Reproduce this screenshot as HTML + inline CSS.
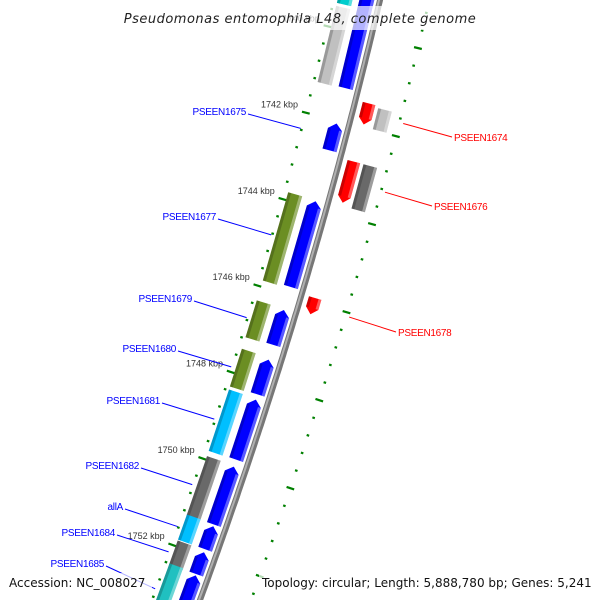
<!DOCTYPE html>
<html><head><meta charset="utf-8"><style>
html,body{margin:0;padding:0;background:#fff;width:600px;height:600px;overflow:hidden;}
svg{display:block;font-family:"Liberation Sans","DejaVu Sans",sans-serif;}
</style></head><body>
<svg id="map" width="600" height="600" viewBox="0 0 600 600" xmlns="http://www.w3.org/2000/svg" overflow="hidden">
<rect width="600" height="600" fill="#fff"/>
<g id="ticks"></g>
<g id="backbone"></g>
<g id="features"></g>
<g id="labels"></g>
<g id="overlay"></g>
</svg>
<script>
// ---- data (kbp) ----
const fwdNames  = ['PSEEN1673','PSEEN1675','PSEEN1677','PSEEN1679','PSEEN1680','PSEEN1681','PSEEN1682','allA','PSEEN1684','PSEEN1685'];
const fwdStart  = [1738.33,1742.06,1743.85,1746.35,1747.49,1748.41,1749.95,1751.32,1751.92,1752.45];
const fwdEnd    = [1741.25,1742.68,1745.82,1747.15,1748.29,1749.79,1751.28,1751.85,1752.42,1753.6];
const cogStart  = [1737.56,1739.51,1743.82,1746.32,1747.44,1748.38,1749.92,1751.27,1751.87,1752.40];
const cogEnd    = [1739.44,1741.27,1745.86,1747.17,1748.31,1749.80,1751.29,1751.85,1752.44,1753.6];
const cogColor  = ['#00cdcd','#c0c0c0','#6b8e23','#6b8e23','#6b8e23','#00bfff','#696969','#00bfff','#696969','#20c0c0'];
const revNames  = ['PSEEN1674','PSEEN1676','PSEEN1678'];
const revStart  = [1741.45,1742.78,1745.90];
const revEnd    = [1741.93,1743.72,1746.27];
const revCogStart = [1741.50,1742.78];
const revCogEnd   = [1741.98,1743.79];
const revCogColor = ['#c0c0c0','#696969'];
const majorTicks = [1738,1740,1742,1744,1746,1748,1750,1752,1754];
const tickLabels = ['1738 kbp','1740 kbp','1742 kbp','1744 kbp','1746 kbp','1748 kbp','1750 kbp','1752 kbp','1754 kbp'];
const minorStep = 0.4;
const leftLabelNames = ['PSEEN1675','PSEEN1677','PSEEN1679','PSEEN1680','PSEEN1681','PSEEN1682','allA','PSEEN1684','PSEEN1685'];
const leftLabelPos = [[248,114],[218,219],[194,301],[178,351],[162,403],[141,468],[125,509],[117,535],[106,566]];
const rightLabelPos = [[452,137],[432,206],[396,332]];

// ---- geometry ----
const NS='http://www.w3.org/2000/svg';
function sOf(k){return 124+(k-1742)*43.6;}
function X(s){return 380-0.2333*s-1.11e-4*s*s;}
function P(k,off){const s=sOf(k);const m=0.2333+2.22e-4*s;const n=Math.sqrt(1+m*m);return [X(s)+off/n, s+off*m/n];}
function mk(tag,attrs,parent){const e=document.createElementNS(NS,tag);for(const a in attrs)e.setAttribute(a,attrs[a]);parent.appendChild(e);return e;}
function pts(arr){return arr.map(p=>p[0].toFixed(1)+','+p[1].toFixed(1)).join(' ');}
const gT=document.getElementById('ticks'),gB=document.getElementById('backbone'),gF=document.getElementById('features'),gL=document.getElementById('labels'),gO=document.getElementById('overlay');

// backbone
const bb=[];for(let k=1736.5;k<=1753.9;k+=0.1)bb.push(P(k,0));
let e=mk('polyline',{points:pts(bb),fill:'none',stroke:'#777',"stroke-width":6},gB);


e=mk('polyline',{points:pts(bb.map(p=>[p[0]-1,p[1]])),fill:'none',stroke:'#b0b0b0',"stroke-width":2},gB);



// ticks
for(let k=1736.8;k<=1753.8;k+=minorStep){
  const kk=Math.round(k*10)/10;
  const major=majorTicks.some(m=>Math.abs(m-kk)<0.01);
  [-45,48].forEach(off=>{
    const len=major?4:1.3;
    const a=P(kk,off-len),b=P(kk,off+len);
    const t=mk('line',{x1:a[0],y1:a[1],x2:b[0],y2:b[1],stroke:'#008000',"stroke-width":2.2},gT);
    
    
  });
}
majorTicks.forEach((m,i)=>{
  const p=P(m,-53);
  const t=mk('text',{x:p[0],y:p[1]-3,"text-anchor":'end',"font-size":9,fill:'#333'},gT);
  t.textContent=tickLabels[i];
  
  
});

// feature drawing
function feature(k1,k2,off,w,color,dir,name){
  const o1=off-w/2,o2=off+w/2,h=0.14;
  let poly;
  if(dir===1){
    poly=[P(k2,o1),P(k2,o2),P(k1+h,o2),P(k1,off),P(k1+h,o1)];
  }else if(dir===-1){
    poly=[P(k1,o1),P(k1,o2),P(k2-h,o2),P(k2,off),P(k2-h,o1)];
  }else poly=[P(k1,o1),P(k1,o2),P(k2,o2),P(k2,o1)];
  const g=mk('g',{},gF);
  
  
  mk('polygon',{points:pts(poly),fill:color},g);
  const d1=dir===1?h:0,d2=dir===-1?h:0;
  mk('polygon',{points:pts([P(k1+d1,o1),P(k1+d1,o1+3),P(k2-d2,o1+3),P(k2-d2,o1)]),fill:'#000',opacity:0.2},g);
  mk('polygon',{points:pts([P(k1+d1,o2-3),P(k1+d1,o2),P(k2-d2,o2),P(k2-d2,o2-3)]),fill:'#fff',opacity:0.35},g);
}
fwdStart.forEach((s,i)=>feature(s,fwdEnd[i],-12.5,14.5,'#0000ff',1,'gene-'+fwdNames[i]));
cogStart.forEach((s,i)=>feature(s,cogEnd[i],-34,14.5,cogColor[i],0,'cog-'+i));
revStart.forEach((s,i)=>feature(s,revEnd[i],14,13,'#ff0000',-1,'gene-'+revNames[i]));
revCogStart.forEach((s,i)=>feature(s,revCogEnd[i],31,14,revCogColor[i],0,'rev-cog-'+i));

// labels
leftLabelNames.forEach((n,i)=>{
  const gi=fwdNames.indexOf(n);
  const mid=(fwdStart[gi]+fwdEnd[gi])/2;
  const end=P(mid,-46);const [lx,ly]=leftLabelPos[i];
  let l=mk('line',{x1:lx,y1:ly,x2:end[0],y2:end[1],stroke:'#0000ff',"stroke-width":1},gL);
  
  
  let t=mk('text',{x:lx-2,y:ly+1,"text-anchor":'end',"font-size":10,"letter-spacing":'-0.3',fill:'#0000ff'},gL);
  t.textContent=n;
  
  
});
revNames.forEach((n,i)=>{
  const mid=(revStart[i]+revEnd[i])/2;
  const end=P(mid,52);const [lx,ly]=rightLabelPos[i];
  let l=mk('line',{x1:end[0],y1:end[1],x2:lx,y2:ly,stroke:'#ff0000',"stroke-width":1},gL);
  
  
  let t=mk('text',{x:lx+2,y:ly+4,"font-size":10,"letter-spacing":'-0.3',fill:'#ff0000'},gL);
  t.textContent=n;
  
  
});

// overlay title and footer
let r=mk('rect',{x:120,y:6,width:360,height:24,fill:'#fff',opacity:0.7},gO);


let t=mk('text',{x:300,y:23,"text-anchor":'middle',"font-size":13,"font-style":'italic',"font-family":'"DejaVu Sans",sans-serif',fill:'#222',"letter-spacing":'0.5'},gO);
t.textContent='Pseudomonas entomophila L48, complete genome';


r=mk('rect',{x:6,y:573,width:146,height:18,fill:'#fff',opacity:0.7},gO);


t=mk('text',{x:9,y:587,"font-size":12,"font-family":'"DejaVu Sans",sans-serif',fill:'#111'},gO);
t.textContent='Accession: NC_008027';


r=mk('rect',{x:259,y:573,width:338,height:18,fill:'#fff',opacity:0.7},gO);


t=mk('text',{x:262,y:587,"font-size":12,"font-family":'"DejaVu Sans",sans-serif',fill:'#111'},gO);
t.textContent='Topology: circular; Length: 5,888,780 bp; Genes: 5,241';


</script>
</body></html>
